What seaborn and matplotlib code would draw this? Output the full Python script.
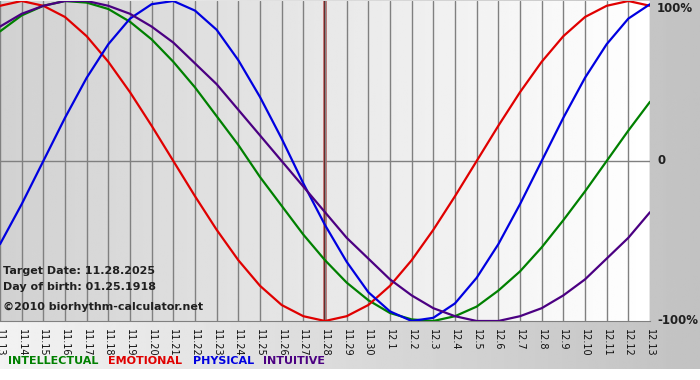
import numpy as np
import pandas as pd
import matplotlib.pyplot as plt
import seaborn as sns

# day labels 11.13 .. 12.13
days = ["11.%d" % d for d in range(13, 31)] + ["12.%d" % d for d in range(1, 14)]

# curve values (-1 .. 1)
physical = [-0.52, -0.27, 0.00, 0.27, 0.52, 0.73, 0.89, 0.98, 1.00, 0.94, 0.82,
            0.63, 0.40, 0.14, -0.14, -0.40, -0.63, -0.82, -0.94, -1.00, -0.98,
            -0.89, -0.73, -0.52, -0.27, 0.00, 0.27, 0.52, 0.73, 0.89, 0.98]
emotional = [0.97, 1.00, 0.97, 0.90, 0.78, 0.62, 0.43, 0.22, 0.00, -0.22, -0.43,
             -0.62, -0.78, -0.90, -0.97, -1.00, -0.97, -0.90, -0.78, -0.62, -0.43,
             -0.22, 0.00, 0.22, 0.43, 0.62, 0.78, 0.90, 0.97, 1.00, 0.97]
intellectual = [0.81, 0.91, 0.97, 1.00, 0.99, 0.95, 0.87, 0.76, 0.62, 0.46, 0.28,
                0.10, -0.10, -0.28, -0.46, -0.62, -0.76, -0.87, -0.95, -0.99, -1.00,
                -0.97, -0.91, -0.81, -0.69, -0.54, -0.37, -0.19, 0.00, 0.19, 0.37]
intuitive = [0.84, 0.92, 0.97, 1.00, 1.00, 0.97, 0.92, 0.84, 0.74, 0.61, 0.48,
             0.32, 0.16, 0.00, -0.16, -0.32, -0.48, -0.61, -0.74, -0.84, -0.92,
             -0.97, -1.00, -1.00, -0.97, -0.92, -0.84, -0.74, -0.61, -0.48, -0.32]

target_idx = days.index("11.28")

colors = {"INTELLECTUAL": "#008000", "EMOTIONAL": "#e00000",
          "PHYSICAL": "#0000e0", "INTUITIVE": "#4b0082"}

df = pd.DataFrame({
    "day": list(range(len(days))) * 4,
    "value": intellectual + emotional + physical + intuitive,
    "cycle": (["INTELLECTUAL"] * len(days) + ["EMOTIONAL"] * len(days)
              + ["PHYSICAL"] * len(days) + ["INTUITIVE"] * len(days)),
})

sns.set_style("white")
plt.rcParams["font.family"] = ["DejaVu Sans"]

W, H = 700, 380
fig = plt.figure(figsize=(7, 3.8), dpi=100)

# figure background gradient
bg = fig.add_axes([0, 0, 1, 1], zorder=-10)
grad = np.linspace(0.95, 0.76, 256)
img = np.tile(grad, (2, 1))
bg.imshow(img, cmap="gray", vmin=0, vmax=1, aspect="auto",
          extent=[0, 1, 11 / H, 1], transform=bg.transAxes)
bg.set_xlim(0, 1)
bg.set_ylim(0, 1)
bg.axis("off")

# main plot
ax = fig.add_axes([0, 1 - 321 / H, 650 / W, 320 / H])
pgrad = np.tile(np.linspace(0.82, 1.0, 256), (2, 1))
ax.imshow(pgrad, cmap="gray", vmin=0, vmax=1, aspect="auto",
          extent=[0, len(days) - 1, -1, 1], zorder=0)

sns.lineplot(data=df, x="day", y="value", hue="cycle", palette=colors,
             legend=False, linewidth=1.6, ax=ax, zorder=3)

ax.set_xlim(0, len(days) - 1)
ax.set_ylim(-1, 1)
ax.set_xticks(range(len(days)))
ax.set_xticklabels(days, rotation=-90, fontsize=7, color="#101010")
ax.grid(axis="x", color="#808080", linewidth=1, zorder=1)
ax.set_axisbelow(False)
ax.axhline(0, color="#808080", linewidth=1, zorder=1)
ax.axvline(target_idx, color="#c06060", linewidth=2.6, zorder=2)
ax.axvline(target_idx, color="#5a1010", linewidth=1.3, zorder=2)
ax.tick_params(axis="x", direction="out", length=4, color="#808080", pad=2)
ax.set_yticks([])
ax.set_xlabel("")
ax.set_ylabel("")
for s in ["top", "left", "right"]:
    ax.spines[s].set_visible(False)
ax.spines["bottom"].set_color("#808080")

# right side percent labels
right_labels = ["100%", "0", "-100%"]
for lab, py in zip(right_labels, [8, 161, 321]):
    fig.text(657 / W, 1 - py / H, lab, fontsize=8.5, fontweight="bold",
             color="#202020", va="center", ha="left")

# info text
info = ["Target Date: 11.28.2025", "Day of birth: 01.25.1918",
        "\u00a92010 biorhythm-calculator.net"]
for txt, py in zip(info, [271, 287, 307]):
    fig.text(3 / W, 1 - py / H, txt, fontsize=8, fontweight="bold",
             color="#202020", va="center", zorder=5)

# coloured legend words
legend_x = {"INTELLECTUAL": 8, "EMOTIONAL": 108, "PHYSICAL": 193, "INTUITIVE": 263}
for name, px in legend_x.items():
    fig.text(px / W, 1 - 361 / H, name, color=colors[name], fontsize=8,
             fontweight="bold", va="center")

fig.savefig("out.png", dpi=100)
